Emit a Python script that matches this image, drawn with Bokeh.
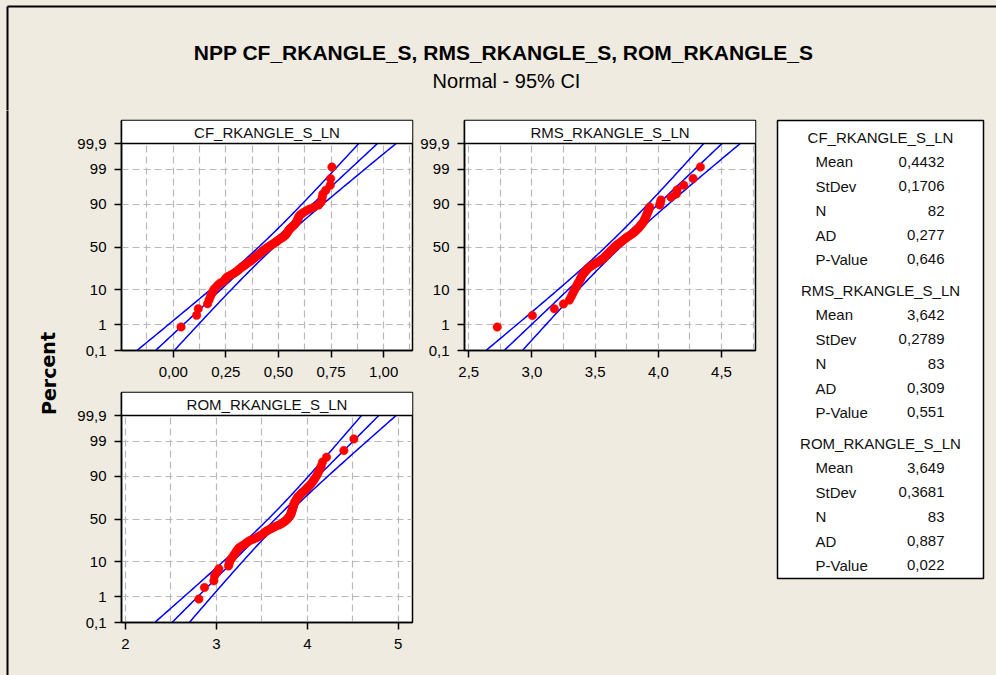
from statistics import NormalDist

from bokeh.core.properties import value
from bokeh.embed import file_html
from bokeh.layouts import column, row
from bokeh.models import CustomJSTickFormatter, FixedTicker, Label, Range1d, Span
from bokeh.plotting import figure
from bokeh.resources import INLINE

BEIGE = "#EFEBE1"
FONT = "Liberation Sans"
BG_STYLE = {"background-color": BEIGE}

# ---- data: sorted observations of each variable ----
cf_values = [
    0.037, 0.111, 0.119, 0.163, 0.170, 0.176, 0.183, 0.189, 0.195, 0.205,
    0.214, 0.224, 0.240, 0.246, 0.252, 0.262, 0.275, 0.287, 0.297, 0.305,
    0.313, 0.319, 0.327, 0.337, 0.343, 0.351, 0.357, 0.367, 0.373, 0.379,
    0.386, 0.392, 0.398, 0.405, 0.411, 0.417, 0.422, 0.429, 0.435, 0.441,
    0.448, 0.456, 0.462, 0.470, 0.478, 0.484, 0.492, 0.498, 0.505, 0.513,
    0.521, 0.529, 0.533, 0.538, 0.541, 0.544, 0.548, 0.552, 0.557, 0.563,
    0.570, 0.576, 0.581, 0.586, 0.589, 0.592, 0.595, 0.598, 0.605, 0.616,
    0.630, 0.646, 0.668, 0.690, 0.700, 0.706, 0.708, 0.711, 0.725, 0.746,
    0.748, 0.754,
]
rms_values = [
    2.725, 3.003, 3.177, 3.249, 3.296, 3.310, 3.320, 3.331, 3.341, 3.349,
    3.357, 3.365, 3.373, 3.381, 3.386, 3.392, 3.399, 3.407, 3.415, 3.426,
    3.434, 3.442, 3.455, 3.468, 3.481, 3.497, 3.513, 3.529, 3.540, 3.553,
    3.566, 3.574, 3.582, 3.590, 3.598, 3.606, 3.614, 3.622, 3.630, 3.638,
    3.646, 3.654, 3.661, 3.672, 3.683, 3.693, 3.704, 3.714, 3.725, 3.735,
    3.746, 3.757, 3.770, 3.783, 3.796, 3.807, 3.817, 3.825, 3.836, 3.844,
    3.852, 3.860, 3.868, 3.876, 3.884, 3.889, 3.894, 3.899, 3.905, 3.910,
    3.915, 3.921, 3.926, 3.931, 4.011, 4.016, 4.021, 4.100, 4.143, 4.148,
    4.201, 4.275, 4.333,
]
rom_values = [
    2.807, 2.869, 2.972, 2.979, 3.008, 3.027, 3.133, 3.140, 3.148, 3.162,
    3.177, 3.192, 3.206, 3.217, 3.228, 3.243, 3.258, 3.283, 3.309, 3.327,
    3.346, 3.368, 3.404, 3.434, 3.456, 3.478, 3.500, 3.518, 3.533, 3.548,
    3.566, 3.588, 3.610, 3.632, 3.658, 3.687, 3.709, 3.727, 3.742, 3.757,
    3.771, 3.782, 3.790, 3.800, 3.808, 3.815, 3.819, 3.823, 3.826, 3.830,
    3.834, 3.837, 3.841, 3.845, 3.848, 3.852, 3.856, 3.863, 3.870, 3.878,
    3.885, 3.892, 3.903, 3.918, 3.933, 3.947, 3.969, 3.984, 3.999, 4.017,
    4.035, 4.050, 4.065, 4.079, 4.094, 4.109, 4.123, 4.138, 4.153, 4.167,
    4.211, 4.402, 4.512,
]

names = ["CF_RKANGLE_S_LN", "RMS_RKANGLE_S_LN", "ROM_RKANGLE_S_LN"]
means = [0.4432, 3.642, 3.649]
stdevs = [0.1706, 0.2789, 0.3681]
counts = [82, 83, 83]
ad_stats = [0.277, 0.309, 0.887]
p_values = [0.646, 0.551, 0.022]

pct_ticks = [0.1, 1, 10, 50, 90, 99, 99.9]
pct_labels = ["0,1", "1", "10", "50", "90", "99", "99,9"]
pct_grid = [1, 10, 50, 90, 99]

cf_x_labels = [0.0, 0.25, 0.5, 0.75, 1.0]
cf_x_grid = [-0.125, 0.0, 0.125, 0.25, 0.375, 0.5, 0.625, 0.75, 0.875, 1.0, 1.125]
rms_x_labels = [2.5, 3.0, 3.5, 4.0, 4.5]
rms_x_grid = [2.5, 2.75, 3.0, 3.25, 3.5, 3.75, 4.0, 4.25, 4.5, 4.75]
rom_x_labels = [2, 3, 4, 5]
rom_x_grid = [2, 2.5, 3, 3.5, 4, 4.5, 5]

ND = NormalDist()
ZMAX = -ND.inv_cdf(0.001)
PLOT_PX = 207      # height of the probability area
HEADER_PX = 23     # height of the panel header strip
YTOP = ZMAX + HEADER_PX * 2 * ZMAX / PLOT_PX
Z975 = ND.inv_cdf(0.975)


def z_of(pct):
    return ND.inv_cdf(pct / 100.0)


def npp_panel(name, data, mean, sd, x_range, grid_x, label_x, decimals,
              width, height, mb_left, mb_right, mb_top, mb_bottom):
    p = figure(width=width, height=height,
               x_range=Range1d(*x_range), y_range=Range1d(-ZMAX, YTOP),
               output_backend="svg", toolbar_location=None,
               min_border_left=mb_left, min_border_right=mb_right,
               min_border_top=mb_top, min_border_bottom=mb_bottom,
               background_fill_color="white", border_fill_color=BEIGE,
               outline_line_color="black", outline_line_width=1.5,
               styles=BG_STYLE)

    # grid
    p.xgrid.ticker = FixedTicker(ticks=grid_x)
    p.ygrid.ticker = FixedTicker(ticks=[z_of(v) for v in pct_grid])
    for g in (p.xgrid, p.ygrid):
        g.grid_line_color = "#B9B9B9"
        g.grid_line_dash = "7 4"
        g.grid_line_width = 1.2

    # axes
    p.yaxis.ticker = FixedTicker(ticks=[z_of(v) for v in pct_ticks])
    p.yaxis.formatter = CustomJSTickFormatter(
        args=dict(zs=[z_of(v) for v in pct_ticks], labels=pct_labels),
        code="""
            let best = 0, d = 1e9;
            for (let i = 0; i < zs.length; i++) {
                const dd = Math.abs(zs[i] - tick);
                if (dd < d) { d = dd; best = i; }
            }
            return labels[best];
        """)
    p.xaxis.ticker = FixedTicker(ticks=label_x)
    p.xaxis.formatter = CustomJSTickFormatter(
        args=dict(d=decimals), code="return tick.toFixed(d).replace('.', ',');")
    for ax in (p.xaxis, p.yaxis):
        ax.axis_line_color = "black"
        ax.axis_line_width = 1.5
        ax.major_tick_line_color = "black"
        ax.major_tick_line_width = 1.5
        ax.major_tick_in = 0
        ax.major_tick_out = 7
        ax.minor_tick_line_color = None
        ax.major_label_text_font = FONT
        ax.major_label_text_font_size = "15px"
        ax.major_label_text_color = "black"
    p.xaxis.major_label_standoff = 9
    p.yaxis.major_label_standoff = 8

    # fitted line and 95% confidence band
    n = len(data)
    zs = [-ZMAX + k * 2 * ZMAX / 80 for k in range(81)]
    fit = [mean + sd * z for z in zs]
    half = [Z975 * sd * (1.0 / n + z * z / (2.0 * n)) ** 0.5 for z in zs]
    lo = [f - h for f, h in zip(fit, half)]
    hi = [f + h for f, h in zip(fit, half)]
    for xs in (lo, fit, hi):
        p.line(xs, zs, line_color="#0000FF", line_width=1.5)

    # observations at median-rank plotting positions
    ys = [ND.inv_cdf((i + 1 - 0.3) / (n + 0.4)) for i in range(n)]
    p.scatter(sorted(data), ys, size=8.5, fill_color="#FF0000",
              line_color="#FF0000", line_width=0.5)

    # header strip
    x0, x1 = x_range
    p.quad(left=[x0], right=[x1], bottom=[ZMAX], top=[YTOP],
           fill_color="white", line_color=None)
    p.add_layout(Span(location=ZMAX, dimension="width",
                      line_color="black", line_width=1.5))
    p.add_layout(Label(x=(x0 + x1) / 2, y=(ZMAX + YTOP) / 2, text=name,
                       text_align="center", text_baseline="middle",
                       text_font=FONT, text_font_size="15px",
                       text_color="#111111"))
    return p


def canvas(w, h):
    p = figure(width=w, height=h, x_range=Range1d(0, w), y_range=Range1d(h, 0),
               output_backend="svg", toolbar_location=None,
               x_axis_type=None, y_axis_type=None, min_border=0,
               background_fill_color=BEIGE, border_fill_color=BEIGE,
               outline_line_color=None, styles=BG_STYLE)
    p.grid.visible = False
    return p


# title band
title_fig = canvas(996, 110)
title_fig.segment(x0=[7, 7], y0=[6, 6], x1=[996, 7], y1=[6, 111],
                  line_color="black", line_width=2)
title_fig.text(x=[506], y=[52],
               text=["NPP  CF_RKANGLE_S, RMS_RKANGLE_S, ROM_RKANGLE_S"],
               text_font=value(FONT), text_font_style="bold",
               text_font_size="21px", text_align="center",
               text_baseline="middle", text_color="black")
title_fig.text(x=[506], y=[80], text=["Normal - 95% CI"],
               text_font=value(FONT), text_font_size="20px",
               text_align="center", text_baseline="middle", text_color="black")

# left strip with the shared axis title
pct_fig = canvas(70, 565)
pct_fig.segment(x0=[7], y0=[-1], x1=[7], y1=[566],
                line_color="black", line_width=2)
pct_fig.text(x=[48], y=[263], text=["Percent"], angle=1.5708,
             text_font=value("DejaVu Sans"), text_font_style="bold",
             text_font_size="19px", text_align="center",
             text_baseline="middle", text_color="black")

# probability panels
fig_cf = npp_panel(names[0], cf_values, means[0], stdevs[0], (-0.246, 1.137),
                   cf_x_grid, cf_x_labels, 2, 345, 275, 51, 3, 10, 35)
fig_rms = npp_panel(names[1], rms_values, means[1], stdevs[1], (2.466, 4.769),
                    rms_x_grid, rms_x_labels, 1, 355, 275, 49, 15, 10, 35)
fig_rom = npp_panel(names[2], rom_values, means[2], stdevs[2], (1.956, 5.157),
                    rom_x_grid, rom_x_labels, 0, 345, 290, 51, 3, 7, 53)
filler = canvas(355, 290)

# summary statistics box
stats_fig = canvas(226, 565)
stats_fig.quad(left=[7], right=[213], top=[10], bottom=[468],
               fill_color="white", line_color="black", line_width=1.5)
group_top = [26.5, 179.5, 332.5]
row_offsets = [24.5, 49, 73.5, 98, 122]
row_names = ["Mean", "StDev", "N", "AD", "P-Value"]
hx, hy, hs, lx, ly, ls, vx, vy, vs = [], [], [], [], [], [], [], [], []
for g in range(3):
    hx.append(110)
    hy.append(group_top[g])
    hs.append(names[g])
    vals = [means[g], stdevs[g], counts[g], ad_stats[g], p_values[g]]
    for k in range(5):
        lx.append(45)
        ly.append(group_top[g] + row_offsets[k])
        ls.append(row_names[k])
        vx.append(174)
        vy.append(group_top[g] + row_offsets[k])
        vs.append(str(vals[k]).replace(".", ","))
stats_fig.text(x=hx, y=hy, text=hs, text_font=value(FONT), text_font_size="15px",
               text_align="center", text_baseline="middle", text_color="#111111")
stats_fig.text(x=lx, y=ly, text=ls, text_font=value(FONT), text_font_size="15px",
               text_align="left", text_baseline="middle", text_color="#111111")
stats_fig.text(x=vx, y=vy, text=vs, text_font=value(FONT), text_font_size="15px",
               text_align="right", text_baseline="middle", text_color="#111111")

page = column(
    title_fig,
    row(pct_fig,
        column(fig_cf, fig_rom, styles=BG_STYLE),
        column(fig_rms, filler, styles=BG_STYLE),
        stats_fig, styles=BG_STYLE),
    styles=BG_STYLE,
)

with open("out.html", "w") as f:
    f.write(file_html(page, INLINE))
